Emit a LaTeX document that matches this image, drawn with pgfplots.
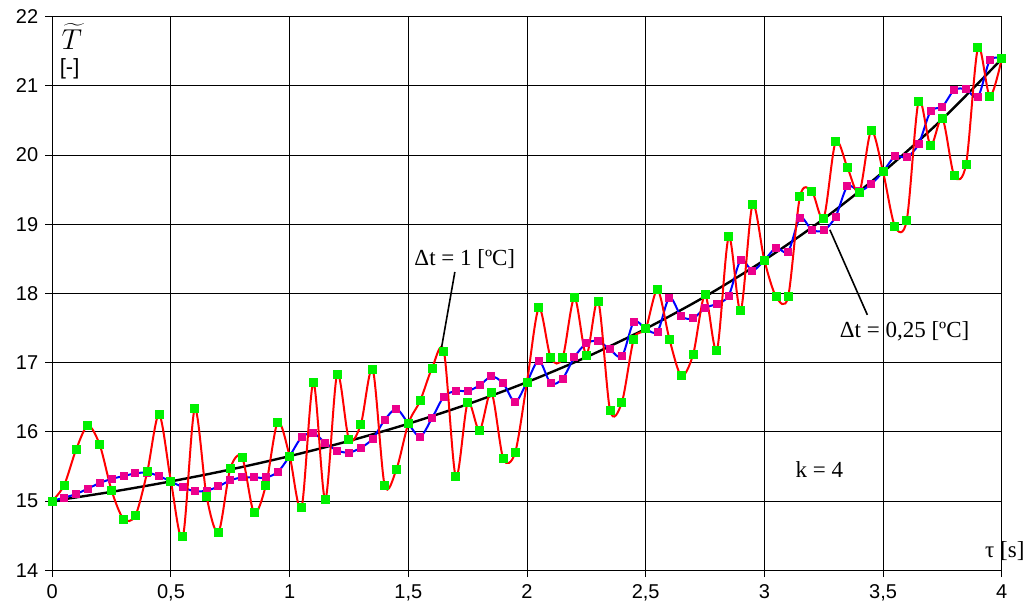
\documentclass[border=0pt]{standalone}
\usepackage{pgfplots}
\pgfplotsset{compat=1.18}
\usepackage{fontspec}
\setmainfont{Liberation Serif}
\newfontfamily\arial{Liberation Sans}
\definecolor{mygreen}{RGB}{0,240,0}
\begin{document}
\begin{tikzpicture}
\begin{axis}[
  name=ax, scale only axis, width=474.7pt, height=276.75pt,
  xmin=0, xmax=4, ymin=14, ymax=22,
  xtick={0,0.5,1,1.5,2,2.5,3,3.5,4}, ytick={14,15,...,22},
  grid=major, major grid style={black, line width=0.5pt},
  axis line style={black, line width=0.6pt},
  tick align=outside, xtick pos=bottom, ytick pos=left, major tick length=3.5pt,
  tick style={black, line width=0.5pt},
  /pgf/number format/use comma, /pgf/number format/assume math mode=true,
  ticklabel style={font=\arial\fontsize{10}{12}\selectfont},
  clip=false,
]
% black reference curve
\addplot[black, line width=1.2pt, smooth] coordinates {
(0,15.000) (0.25,15.133) (0.5,15.284) (0.75,15.455) (1,15.649) (1.25,15.868)
(1.5,16.117) (1.75,16.399) (2,16.718) (2.25,17.080) (2.5,17.490) (2.75,17.955)
(3,18.482) (3.25,19.078) (3.5,19.755) (3.75,20.521) (4,21.389)};
% dt = 0.25
\addplot[blue, line width=1pt, smooth, mark=square*, mark size=1.5pt,
  mark options={fill=magenta, draw=magenta}] table {
0.00 15.00
0.05 15.05
0.10 15.10
0.15 15.18
0.20 15.26
0.25 15.32
0.30 15.36
0.35 15.40
0.40 15.41
0.45 15.36
0.50 15.28
0.55 15.20
0.60 15.14
0.65 15.15
0.70 15.21
0.75 15.30
0.80 15.34
0.85 15.34
0.90 15.34
0.95 15.42
1.00 15.65
1.05 15.92
1.10 15.98
1.15 15.84
1.20 15.73
1.25 15.70
1.30 15.77
1.35 15.90
1.40 16.17
1.45 16.33
1.50 16.12
1.55 15.93
1.60 16.20
1.65 16.51
1.70 16.59
1.75 16.59
1.80 16.67
1.85 16.80
1.90 16.70
1.95 16.43
2.00 16.72
2.05 17.03
2.10 16.70
2.15 16.77
2.20 17.08
2.25 17.28
2.30 17.31
2.35 17.19
2.40 17.09
2.45 17.59
2.50 17.49
2.55 17.45
2.60 17.94
2.65 17.67
2.70 17.64
2.75 17.79
2.80 17.85
2.85 17.97
2.90 18.48
2.95 18.33
3.00 18.48
3.05 18.66
3.10 18.60
3.15 19.09
3.20 18.92
3.25 18.91
3.30 19.11
3.35 19.55
3.40 19.48
3.45 19.58
3.50 19.76
3.55 19.98
3.60 19.97
3.65 20.16
3.70 20.63
3.75 20.70
3.80 20.94
3.85 20.95
3.90 20.84
3.95 21.37
4.00 21.39
};
% dt = 1
\addplot[red, line width=1pt, smooth, mark=square*, mark size=1.75pt,
  mark options={fill=mygreen, draw=mygreen}] table {
0.00 15.00
0.05 15.23
0.10 15.74
0.15 16.09
0.20 15.81
0.25 15.15
0.30 14.74
0.35 14.79
0.40 15.42
0.45 16.25
0.50 15.28
0.55 14.48
0.60 16.33
0.65 15.07
0.70 14.55
0.75 15.47
0.80 15.63
0.85 14.83
0.90 15.23
0.95 16.14
1.00 15.65
1.05 14.90
1.10 16.71
1.15 15.02
1.20 16.83
1.25 15.89
1.30 16.11
1.35 16.90
1.40 15.23
1.45 15.46
1.50 16.12
1.55 16.45
1.60 16.92
1.65 17.16
1.70 15.35
1.75 16.42
1.80 16.02
1.85 16.57
1.90 15.61
1.95 15.70
2.00 16.72
2.05 17.79
2.10 17.07
2.15 17.07
2.20 17.94
2.25 17.11
2.30 17.89
2.35 16.31
2.40 16.43
2.45 17.34
2.50 17.49
2.55 18.05
2.60 17.34
2.65 16.81
2.70 17.12
2.75 17.98
2.80 17.18
2.85 18.82
2.90 17.75
2.95 19.28
3.00 18.48
3.05 17.95
3.10 17.95
3.15 19.40
3.20 19.48
3.25 19.09
3.30 20.19
3.35 19.82
3.40 19.46
3.45 20.35
3.50 19.76
3.55 18.97
3.60 19.06
3.65 20.78
3.70 20.14
3.75 20.53
3.80 19.70
3.85 19.87
3.90 21.55
3.95 20.85
4.00 21.39
};
% annotations
\node[font=\fontsize{11.5}{13}\selectfont] at (axis cs:1.738,18.50) {Δt = 1 [ºC]};
\draw[black, line width=0.8pt] (axis cs:1.696,18.31) -- (axis cs:1.637,17.16);
\node[font=\fontsize{11.5}{13}\selectfont] at (axis cs:3.591,17.45) {Δt = 0,25 [ºC]};
\draw[black, line width=0.8pt] (axis cs:3.276,18.92) -- (axis cs:3.434,17.69);
\node[font=\fontsize{11.5}{13}\selectfont] at (axis cs:3.232,15.45) {k = 4};
\node[font=\fontsize{11.5}{13}\selectfont] at (axis cs:4.013,14.28) {τ [s]};
\node[font=\fontsize{15}{17}\selectfont, anchor=base, inner sep=0pt] at (axis cs:0.082,21.52) {$\widetilde{T}$};
\node[font=\arial\fontsize{11}{12}\selectfont, anchor=base, inner sep=0pt] at (axis cs:0.073,21.16) {[-]};
\end{axis}
\pgfresetboundingbox
\path[use as bounding box] ([shift={(-26.15pt,-19.4pt)}]ax.south west) rectangle ([shift={(13.65pt,8.35pt)}]ax.north east);
\end{tikzpicture}
\end{document}
